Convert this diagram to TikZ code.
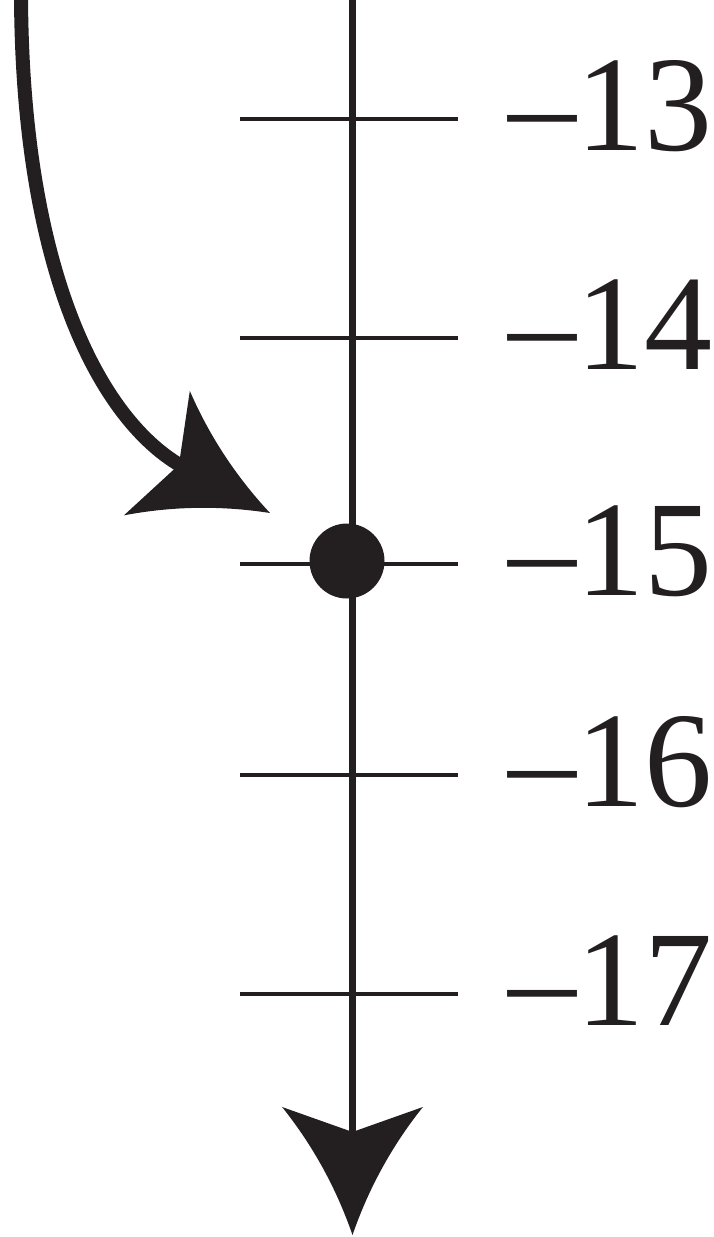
\documentclass[tikz,border=0pt]{standalone}
\usepackage{fontspec}
\setmainfont{Liberation Serif}
\usetikzlibrary{arrows.meta}
\definecolor{inkblack}{RGB}{35,31,32}

% a dart with hollowed sides, as in the printed figure
\pgfdeclarearrow{
  name = Spear,
  parameters = {\the\pgfarrowlength},
  setup code = {
    \pgfarrowssettipend{0pt}
    \pgfarrowssetbackend{-\pgfarrowlength}
    \pgfarrowssetlineend{-.75\pgfarrowlength}
    \pgfarrowshullpoint{0pt}{0pt}
    \pgfarrowsupperhullpoint{-\pgfarrowlength}{.55\pgfarrowlength}
    \pgfarrowssavethe\pgfarrowlength
  },
  drawing code = {
    \pgfpathmoveto{\pgfqpoint{0pt}{0pt}}
    \pgfpathquadraticcurveto{\pgfqpoint{-.55\pgfarrowlength}{.19\pgfarrowlength}}{\pgfqpoint{-\pgfarrowlength}{.55\pgfarrowlength}}
    \pgfpathlineto{\pgfqpoint{-.805\pgfarrowlength}{0pt}}
    \pgfpathlineto{\pgfqpoint{-\pgfarrowlength}{-.55\pgfarrowlength}}
    \pgfpathquadraticcurveto{\pgfqpoint{-.55\pgfarrowlength}{-.19\pgfarrowlength}}{\pgfqpoint{0pt}{0pt}}
    \pgfpathclose
    \pgfusepathqfill
  },
  defaults = {length = 10pt}
}

\begin{document}
\begin{tikzpicture}[
  x=1pt, y=-1pt,
  color=inkblack,
  axis/.style={line width=7.5pt, -{Spear[length=128pt]}},
  tickmark/.style={line width=4pt},
  swoop/.style={line width=14pt, -{Spear[length=128pt]}},
  dot/.style={circle, fill, inner sep=0pt, minimum size=75pt},
  lab/.style={anchor=base west, inner sep=0pt, font=\fontsize{136}{136}\selectfont},
]
\useasboundingbox (0,0) rectangle (714,1237);

%% ---- the number line ------------------------------------------------------
\coordinate (top) at (352.5,-10);
\coordinate (bottom) at (352.5,1235);
\draw[axis] (top) -- (bottom);

%% ---- ticks and labels -----------------------------------------------------
\foreach \n/\y in {13/119,14/338,15/564,16/775,17/994}{
  \draw[tickmark] (240,\y) -- (458,\y);
  \node[lab] (n\n) at (508,\y+31) {--\n};
}

%% ---- the point ------------------------------------------------------------
\node[dot] (pt) at (347,561) {};

%% ---- the move down --------------------------------------------------------
\coordinate (from) at (21,-10);
\coordinate (bend) at (185,468);
\coordinate (aim) at (270,513);
\draw[swoop] (from) .. controls (21,270) and (100,422) .. (bend) -- (aim);

\end{tikzpicture}
\end{document}
